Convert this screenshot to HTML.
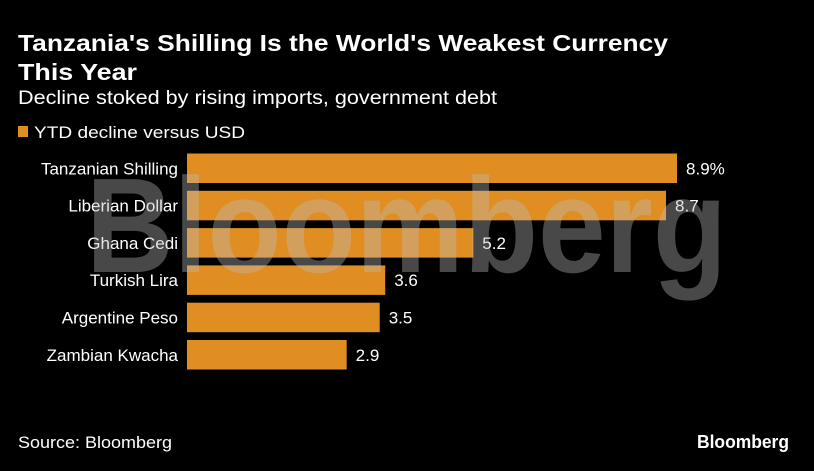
<!DOCTYPE html>
<html><head><meta charset="utf-8"><style>
html,body{margin:0;padding:0;background:#000;}
svg{display:block;font-family:"Liberation Sans",sans-serif;}
</style></head><body>
<svg width="814" height="471" viewBox="0 0 814 471">
<rect width="814" height="471" fill="#000"/>
<text x="18" y="51" font-size="23" font-weight="bold" fill="#fff" textLength="650" lengthAdjust="spacingAndGlyphs">Tanzania's Shilling Is the World's Weakest Currency</text>
<text x="18" y="80" font-size="23" font-weight="bold" fill="#fff" textLength="119" lengthAdjust="spacingAndGlyphs">This Year</text>
<text x="18" y="104" font-size="19" fill="#fff" textLength="479" lengthAdjust="spacingAndGlyphs">Decline stoked by rising imports, government debt</text>
<rect x="18" y="126" width="10" height="11" fill="#e08d21"/>
<text x="34" y="138" font-size="17" fill="#fff" textLength="211" lengthAdjust="spacingAndGlyphs">YTD decline versus USD</text>
<g id="bars"></g>
<text id="wm" x="86" y="272" font-size="135" font-weight="bold" fill="rgba(190,190,190,0.38)" textLength="641" lengthAdjust="spacingAndGlyphs">Bloomberg</text>
<text x="18" y="448" font-size="17" fill="#fff" textLength="154" lengthAdjust="spacingAndGlyphs">Source: Bloomberg</text>
<text x="789" y="448" font-size="18" font-weight="bold" fill="#fff" text-anchor="end" textLength="92" lengthAdjust="spacingAndGlyphs">Bloomberg</text>
</svg>
<script>
const categories=["Tanzanian Shilling","Liberian Dollar","Ghana Cedi","Turkish Lira","Argentine Peso","Zambian Kwacha"];
const values=[8.9,8.7,5.2,3.6,3.5,2.9];
const valueLabels=["8.9%","8.7","5.2","3.6","3.5","2.9"];
const x0=187, pxPer=55.06, top0=153.5, step=37.3, bh=29.5;
const xs=v=>x0+v*pxPer;
const ys=i=>top0+i*step;
const g=document.getElementById('bars');
const NS="http://www.w3.org/2000/svg";
categories.forEach((c,i)=>{
  const r=document.createElementNS(NS,'rect');
  r.setAttribute('x',x0);r.setAttribute('y',ys(i));
  r.setAttribute('width',xs(values[i])-x0);r.setAttribute('height',bh);
  r.setAttribute('fill','#e08d21');
  
  
  g.appendChild(r);
  const t=document.createElementNS(NS,'text');
  t.setAttribute('x',178);t.setAttribute('y',ys(i)+bh/2+6);
  t.setAttribute('text-anchor','end');t.setAttribute('font-size','17');t.setAttribute('fill','#fff');
  t.textContent=c;
  
  
  g.appendChild(t);
  const v=document.createElementNS(NS,'text');
  v.setAttribute('x',xs(values[i])+9);v.setAttribute('y',ys(i)+bh/2+6);
  v.setAttribute('font-size','17');v.setAttribute('fill','#fff');
  v.textContent=valueLabels[i];
  
  
  g.appendChild(v);
});
</script>
</body></html>
